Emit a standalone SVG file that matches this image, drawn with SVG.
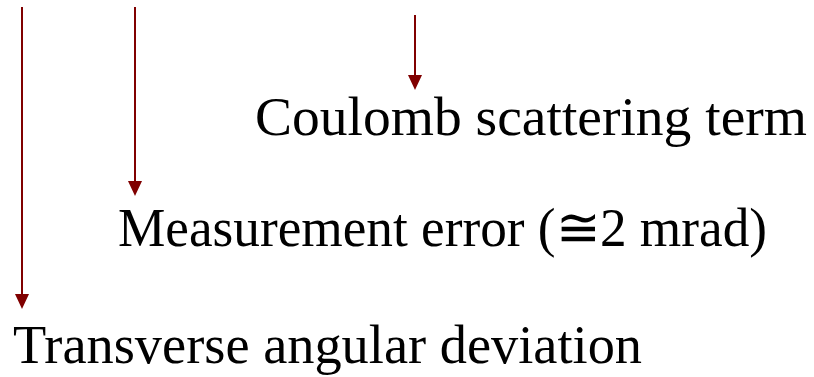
<svg xmlns="http://www.w3.org/2000/svg" width="814" height="377" viewBox="0 0 814 377">
<defs>
<style>
.lbl{font-family:"Liberation Serif","DejaVu Serif",serif;font-size:54px;fill:#000}
.arr{stroke:#800000;stroke-width:2;fill:none}
</style>
<marker id="ah" markerUnits="userSpaceOnUse" markerWidth="16" markerHeight="16" viewBox="0 0 16 16" refX="8" refY="0" orient="auto-start-reverse">
<path d="M0,0 L15,7 L0,14 Z" fill="#800000" transform="translate(0,1)"/>
</marker>
</defs>
<rect width="814" height="377" fill="#fff"/>
<g id="connectors">
<line class="arr" x1="22" y1="7" x2="22" y2="296"/>
<polygon points="15,294 29,294 22,309" fill="#800000"/>
<line class="arr" x1="135" y1="7" x2="135" y2="183"/>
<polygon points="128,181 142,181 135,196" fill="#800000"/>
<line class="arr" x1="415" y1="15" x2="415" y2="77"/>
<polygon points="408,75 422,75 415,90" fill="#800000"/>
</g>
<g id="coulomb"><text class="lbl" x="255" y="135" textLength="552" lengthAdjust="spacingAndGlyphs">Coulomb scattering term</text></g>
<g id="measurement"><text class="lbl" x="118" y="246" textLength="649" lengthAdjust="spacingAndGlyphs">Measurement error (≅2 mrad)</text></g>
<g id="transverse"><text class="lbl" x="13" y="363" textLength="629" lengthAdjust="spacingAndGlyphs">Transverse angular deviation</text></g>
</svg>
